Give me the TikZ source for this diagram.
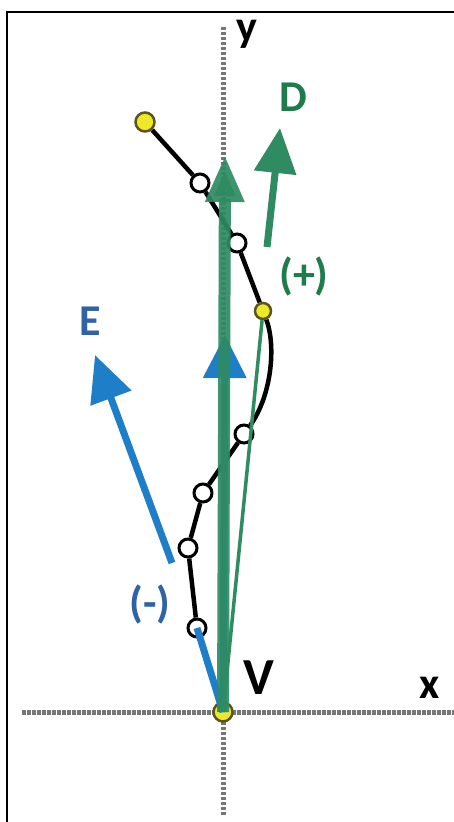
\documentclass[tikz,border=0pt]{standalone}
\usepackage{fontspec}
\setmainfont{Carlito}
\usetikzlibrary{arrows.meta,backgrounds}
\definecolor{leaf}{HTML}{2E8B62}
\definecolor{leafdark}{HTML}{1E7B4C}
\definecolor{sky}{HTML}{1F7EC8}
\definecolor{skydark}{HTML}{3062A8}
\definecolor{lemon}{HTML}{EEE829}
\definecolor{olivedark}{HTML}{5A5420}
\definecolor{axisgray}{HTML}{767676}

\begin{document}
\begin{tikzpicture}[x=1pt,y=-1pt,
    axisline/.style={axisgray, line width=5pt, dash pattern=on 3.5pt off 1.5pt},
    hollow/.style={circle, draw=black, fill=white, line width=3pt, minimum size=18pt, inner sep=0pt},
    goldpt/.style={circle, draw=olivedark, fill=lemon, line width=2.5pt, minimum size=16pt, inner sep=0pt},
    curveline/.style={black, line width=4.5pt},
    lbl/.style={font=\fontsize{44}{44}\selectfont\bfseries, inner sep=0pt}
]
    \useasboundingbox (0,0) rectangle (454,822);

    % Points of the chain
    \node[goldpt, minimum width=19pt, minimum height=15pt] (p1) at (145,122) {};
    \node[hollow] (c1) at (200,183) {};
    \node[hollow] (c2) at (237,243) {};
    \node[goldpt, minimum size=16pt] (p2) at (263,311) {};
    \node[hollow] (c3) at (244,434) {};
    \node[hollow] (c4) at (203,493) {};
    \node[hollow] (c5) at (188,548) {};
    \node[hollow] (c6) at (197,628) {};
    \node[goldpt, minimum size=19pt] (V) at (223,712) {};

    % Axis ends and arrow ends
    \coordinate (xl) at (22,712);
    \coordinate (xr) at (454,712);
    \coordinate (yt) at (223,25);
    \coordinate (yb) at (223,815);
    \coordinate (Gtip) at (225,155);
    \coordinate (Btip) at (225,335);
    \coordinate (Dtail) at (267,247);
    \coordinate (Dtip) at (280,128);
    \coordinate (Etail) at (172,563);
    \coordinate (Etip) at (95,355);

    % Axes and chain behind the points
    \begin{scope}[on background layer]
        \fill[white] (0,0) rectangle (454,822);
        \draw[axisline] (xl) -- (xr);
        \draw[axisline] (yb) -- (yt);
        \draw[curveline] (p1) -- (c1) -- (c2) -- (p2)
            .. controls (276,345) and (272,395) .. (c3) -- (c4) -- (c5) -- (c6);
    \end{scope}

    % Frame (cut at right and bottom)
    \draw[line width=2.5pt] (7,840) -- (7,12) -- (470,12);

    % Blue vectors
    \draw[sky, line width=7pt] (V.center) -- (c6.center);
    \draw[sky, line width=7pt, -{Triangle[length=46pt,width=42pt]}] (Etail) -- (Etip);
    \draw[sky, line width=7pt, -{Triangle[length=43pt,width=42pt]}] (V.center) -- (Btip);

    % Green vectors
    \draw[leaf, line width=12pt, opacity=0.92, -{Triangle[length=47pt,width=36pt]}] (V.center) -- (Gtip);
    \draw[leaf, line width=3.5pt] (V.center) -- (p2);
    \draw[leaf, line width=7pt, -{Triangle[length=45pt,width=41pt]}] (Dtail) -- (Dtip);

    % Labels
    \node[lbl, leafdark] (Dlab) at (293,97) {D};
    \node[lbl, leafdark] (Plus) at (304,276) {(+)};
    \node[lbl, skydark] (Elab) at (90,321) {E};
    \node[lbl, skydark] (Minus) at (150,604) {(-)};
    \node[lbl, font=\fontsize{52}{52}\selectfont\bfseries] (Vlab) at (259,678) {V};
    \node[lbl] (xlab) at (430,688) {x};
    \node[lbl] (ylab) at (247,34) {y};

\end{tikzpicture}
\end{document}
